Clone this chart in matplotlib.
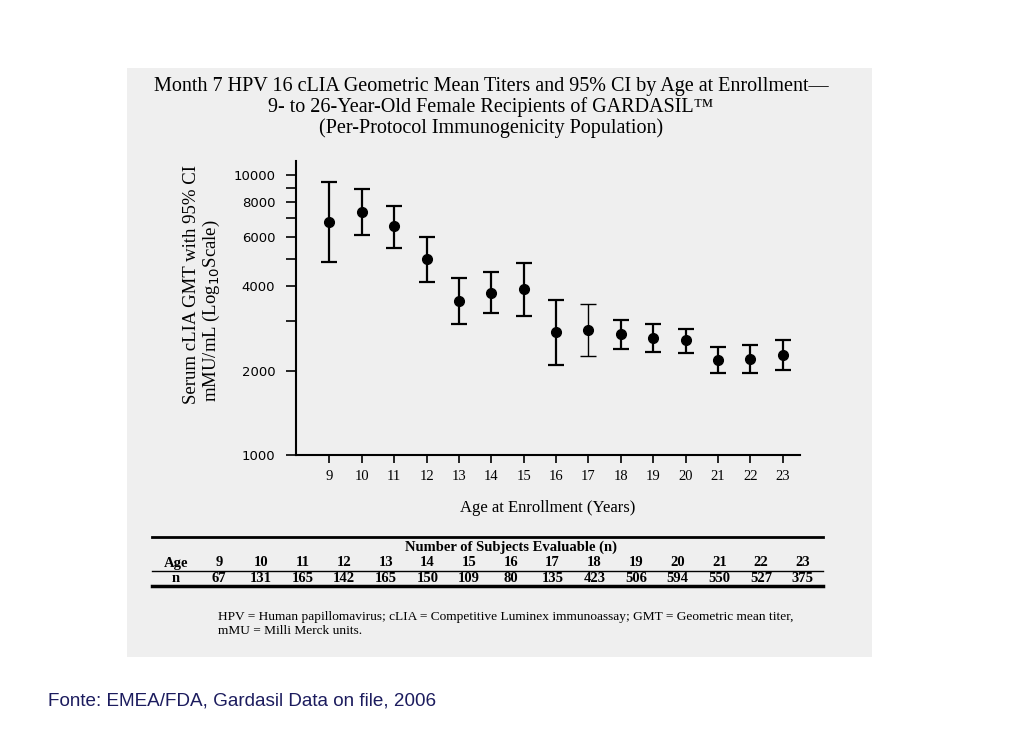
import matplotlib
matplotlib.use("Agg")
import matplotlib.pyplot as plt
from matplotlib.patches import Rectangle
from matplotlib.lines import Line2D
from matplotlib.ticker import FixedLocator, FixedFormatter, NullLocator

# ---- data ----
ages = [9, 10, 11, 12, 13, 14, 15, 16, 17, 18, 19, 20, 21, 22, 23]
gmt = [6800, 7340, 6570, 5010, 3540, 3800, 3900, 2740, 2790, 2700, 2610, 2570, 2180, 2200, 2270]
ci_low = [4900, 6100, 5480, 4160, 2930, 3210, 3130, 2100, 2260, 2390, 2340, 2310, 1960, 1960, 2010]
ci_high = [9440, 8890, 7760, 5980, 4290, 4510, 4830, 3570, 3450, 3020, 2930, 2820, 2420, 2460, 2570]
n_subjects = [67, 131, 165, 142, 165, 150, 109, 80, 135, 423, 506, 594, 550, 527, 375]
y_ticks = [1000, 2000, 3000, 4000, 5000, 6000, 7000, 8000, 9000, 10000]
y_tick_labels = ["1000", "2000", "", "4000", "", "6000", "", "8000", "", "10000"]

W, H = 1024, 745
fig = plt.figure(figsize=(W / 100, H / 100), dpi=100)
fig.patch.set_facecolor("white")

def fx(px):
    return px / W

def fy(py):
    return 1 - py / H

serif = "Liberation Serif"

# gray panel
fig.patches.append(Rectangle((fx(127), fy(657)), fx(872) - fx(127), fy(68) - fy(657),
                             transform=fig.transFigure, facecolor="#efefef",
                             edgecolor="none", zorder=-5))

# title
fig.text(fx(491), fy(87), "Month 7 HPV 16 cLIA Geometric Mean Titers and 95% CI by Age at Enrollment\u2014",
         ha="center", va="center", fontsize=14.5, family=serif)
fig.text(fx(491), fy(107), "9- to 26-Year-Old Female Recipients of GARDASIL\u2122",
         ha="center", va="center", fontsize=14.5, family=serif)
fig.text(fx(491), fy(128), "(Per-Protocol Immunogenicity Population)",
         ha="center", va="center", fontsize=14.5, family=serif)

# main axes
ax = fig.add_axes([fx(296), fy(455), fx(800) - fx(296), fy(161) - fy(455)])
ax.set_facecolor("none")
lower_err = [g - l for g, l in zip(gmt, ci_low)]
upper_err = [h - g for g, h in zip(gmt, ci_high)]
for i, a in enumerate(ages):
    lw = 1.0 if a == 17 else 1.6
    ax.errorbar([a], [gmt[i]], yerr=[[lower_err[i]], [upper_err[i]]], fmt="o",
                color="black", markersize=7, elinewidth=lw, capsize=5.5,
                capthick=lw)
ax.set_yscale("log")
ax.set_ylim(1000, 11200)
ax.set_xlim(7.97, 23.53)
ax.yaxis.set_major_locator(FixedLocator(y_ticks))
ax.yaxis.set_major_formatter(FixedFormatter(y_tick_labels))
ax.yaxis.set_minor_locator(NullLocator())
ax.set_xticks(ages)
ax.set_xticklabels([str(a) for a in ages], family=serif, fontsize=10.5)
for lbl in ax.get_yticklabels():
    lbl.set_fontfamily("DejaVu Sans")
    lbl.set_fontsize(9.5)
ax.tick_params(axis="both", direction="out", width=1.2, colors="black")
ax.tick_params(axis="x", length=6, pad=5)
ax.tick_params(axis="y", length=7, pad=8)
for s in ["top", "right"]:
    ax.spines[s].set_visible(False)
for s in ["left", "bottom"]:
    ax.spines[s].set_linewidth(1.5)

ax.set_xlabel("Age at Enrollment (Years)", family=serif, fontsize=12, labelpad=12)

fig.text(fx(192), fy(285), "Serum cLIA GMT with 95% CI", rotation=90,
         ha="center", va="center", fontsize=13.5, family=serif)
fig.text(fx(211), fy(311), "mMU/mL (Log$_{10}$Scale)", rotation=90,
         ha="center", va="center", fontsize=13.5, family=serif)

# table
x0, x1 = 152, 823
fig.lines.append(Line2D([fx(x0), fx(x1)], [fy(537), fy(537)], transform=fig.transFigure,
                        color="black", lw=2.0))
fig.lines.append(Line2D([fx(x0), fx(x1)], [fy(570.5), fy(570.5)], transform=fig.transFigure,
                        color="black", lw=1.0))
fig.lines.append(Line2D([fx(x0), fx(x1)], [fy(586), fy(586)], transform=fig.transFigure,
                        color="black", lw=2.5))
fig.text(fx(511), fy(547.5), "Number of Subjects Evaluable (n)", ha="center", va="center",
         fontsize=10.5, family=serif, weight="bold")
fig.text(fx(176), fy(563), "Age", ha="center", va="center", fontsize=10.5,
         family=serif, weight="bold")
fig.text(fx(176), fy(578), "n", ha="center", va="center", fontsize=10.5,
         family=serif, weight="bold")
col0, colstep = 219, 41.7
for i, (a, n) in enumerate(zip(ages, n_subjects)):
    cx = col0 + i * colstep
    fig.text(fx(cx), fy(563), str(a), ha="center", va="center", fontsize=10.5,
             family=serif, weight="bold")
    fig.text(fx(cx), fy(578), str(n), ha="center", va="center", fontsize=10.5,
             family=serif, weight="bold")

# footnote
fig.text(fx(218), fy(617), "HPV = Human papillomavirus; cLIA = Competitive Luminex immunoassay; GMT = Geometric mean titer,",
         ha="left", va="center", fontsize=9.6, family=serif)
fig.text(fx(218), fy(631), "mMU = Milli Merck units.", ha="left", va="center",
         fontsize=9.6, family=serif)

# source
fig.text(fx(48), fy(701), "Fonte: EMEA/FDA, Gardasil Data on file, 2006", ha="left",
         va="center", fontsize=13.6, family="Liberation Sans", color="#1c1c5e")

fig.savefig("out.png", dpi=100, facecolor="white")
